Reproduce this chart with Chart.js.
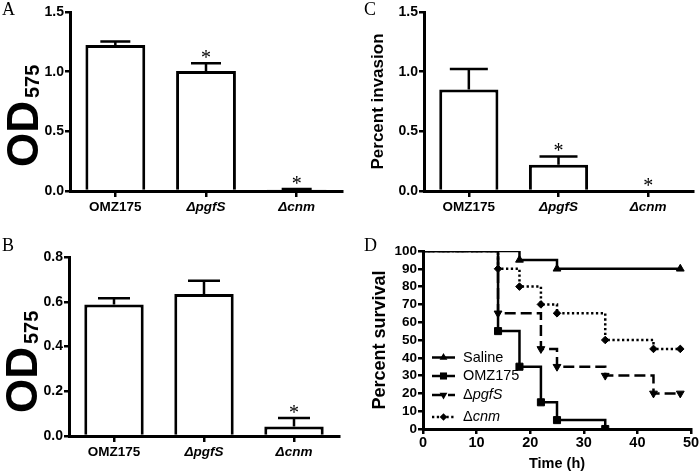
<!DOCTYPE html>
<html>
<head>
<meta charset="utf-8">
<script src="https://cdn.jsdelivr.net/npm/chart.js@4.4.0/dist/chart.umd.min.js"></script>
<style>
  body { margin: 0; background: #fff; }
  #wrap { position: relative; width: 700px; height: 473px; overflow: hidden; }
  canvas { position: absolute; }
  .tag { position: absolute; font-family: 'Liberation Serif', 'Times New Roman', serif; font-size: 18px; line-height: 18px; color: #000; }
</style>
</head>
<body>
<div id="wrap">
  <canvas id="cA" width="350" height="236" style="left:0;top:0"></canvas>
  <canvas id="cC" width="350" height="236" style="left:350px;top:0"></canvas>
  <canvas id="cB" width="350" height="237" style="left:0;top:236px"></canvas>
  <canvas id="cD" width="350" height="237" style="left:350px;top:236px"></canvas>
  <div class="tag" style="left:2px;top:0">A</div>
  <div class="tag" style="left:364px;top:0">C</div>
  <div class="tag" style="left:2px;top:236px">B</div>
  <div class="tag" style="left:364px;top:236px">D</div>
</div>
<script>
'use strict'
// strains shown in the bar panels
var strains = ['OMZ175', '\u0394pgfS', '\u0394cnm'];

// panel A - OD575
var odA = [1.223, 1.006, 0.012];
var odAErr = [0.03, 0.064, 0.004];
var starA = [false, true, true];

// panel B - OD575
var odB = [0.588, 0.635, 0.043];
var odBErr = [0.028, 0.059, 0.037];
var starB = [false, false, true];

// panel C - percent invasion
var invC = [0.85, 0.22, 0];
var invCErr = [0.173, 0.07, 0];
var starC = [false, true, true];

// panel D - survival (time in h, percent)
var survLabels = ['Saline', 'OMZ175', '\u0394pgfS', '\u0394cnm'];
var salineT = [0, 18, 25, 48];
var salineS = [100, 95, 90, 90];
var omzT = [0, 14, 18, 22, 25, 34];
var omzS = [100, 55, 35, 15, 5, 0];
var pgfT = [0, 14, 22, 25, 34, 43, 48];
var pgfS = [100, 65, 45, 35, 30, 20, 20];
var cnmT = [0, 14, 18, 22, 25, 34, 43, 48];
var cnmS = [100, 90, 80, 70, 65, 50, 45, 45];

var sans = "'Liberation Sans', Arial, sans-serif";
Chart.defaults.color = '#000';
Chart.defaults.font.family = sans;

function bold(size) {
    return { family: sans, size: size, weight: 'bold' };
}
function tickGrid(len) {
    return { drawOnChartArea: false, color: '#000', lineWidth: 2.5, tickLength: len };
}
var blackBorder = { color: '#000', width: 3 };

// error bars (upper only) + significance stars
var errPlugin = {
    id: 'errBars',
    afterDatasetsDraw: function (chart, args, o) {
        var ctx = chart.ctx;
        var y = chart.scales.y;
        var vals = chart.data.datasets[0].data;
        ctx.save();
        ctx.strokeStyle = '#000';
        ctx.fillStyle = '#000';
        ctx.lineWidth = 2.5;
        ctx.font = "20px 'Liberation Serif', serif";
        ctx.textAlign = 'center';
        ctx.textBaseline = 'alphabetic';
        chart.getDatasetMeta(0).data.forEach(function (bar, i) {
            var top = y.getPixelForValue(vals[i] + o.errs[i]);
            if (o.errs[i] > 0) {
                ctx.beginPath();
                ctx.moveTo(bar.x, y.getPixelForValue(vals[i]));
                ctx.lineTo(bar.x, top);
                ctx.moveTo(bar.x - o.cap, top);
                ctx.lineTo(bar.x + o.cap, top);
                ctx.stroke();
            }
            if (o.stars[i]) ctx.fillText('*', bar.x, top + 1);
        });
        ctx.restore();
    }
};

// rotated "OD575" axis title with subscript
var odPlugin = {
    id: 'odTitle',
    afterDraw: function (chart, args, o) {
        if (!o.show) return;
        var ctx = chart.ctx;
        ctx.save();
        ctx.translate(o.x, o.y);
        ctx.rotate(-Math.PI / 2);
        ctx.fillStyle = '#000';
        ctx.textAlign = 'left';
        ctx.textBaseline = 'alphabetic';
        ctx.font = 'bold 44px ' + sans;
        ctx.fillText('OD', 0, 0);
        var w = ctx.measureText('OD').width;
        ctx.font = 'bold 20px ' + sans;
        ctx.fillText('575', w + 3, 1);
        ctx.restore();
    }
};

function barPanel(id, vals, errs, stars, yMax, box, od, yTitle) {
    return new Chart(document.getElementById(id), {
        type: 'bar',
        data: {
            labels: strains,
            datasets: [{
                data: vals,
                backgroundColor: '#fff',
                borderColor: '#000',
                borderWidth: 3,
                borderSkipped: 'start',
                barPercentage: 0.66,
                categoryPercentage: 1
            }]
        },
        options: {
            responsive: false,
            animation: false,
            layout: { padding: { top: box.top, right: box.right, left: 0, bottom: 0 } },
            plugins: {
                legend: { display: false },
                tooltip: { enabled: false },
                errBars: { errs: errs, stars: stars, cap: box.cap },
                odTitle: od
            },
            scales: {
                x: {
                    grid: Object.assign(tickGrid(6), { offset: false }),
                    border: blackBorder,
                    ticks: {
                        color: '#000',
                        padding: 2,
                        font: function (c) {
                            return { family: sans, size: 13.5, weight: 'bold', style: c.index > 0 ? 'italic' : 'normal' };
                        }
                    },
                    afterFit: function (s) { s.height = box.xh; }
                },
                y: {
                    min: 0,
                    max: yMax,
                    grid: tickGrid(5),
                    border: blackBorder,
                    ticks: {
                        stepSize: box.step,
                        autoSkip: false,
                        padding: 1,
                        color: '#000',
                        font: bold(14),
                        callback: function (v) { return v.toFixed(1); }
                    },
                    title: yTitle || { display: false },
                    afterFit: function (s) { s.width = box.yw; }
                }
            }
        },
        plugins: [errPlugin, odPlugin]
    });
}

barPanel('cA', odA, odAErr, starA, 1.5,
    { top: 12, right: 8, yw: 70, xh: 45, step: 0.5, cap: 15 },
    { show: true, x: 38, y: 167 });
barPanel('cB', odB, odBErr, starB, 0.8,
    { top: 21, right: 11, yw: 69, xh: 37, step: 0.2, cap: 16 },
    { show: true, x: 37, y: 177 });
barPanel('cC', invC, invCErr, starC, 1.5,
    { top: 12, right: 7, yw: 74, xh: 45, step: 0.5, cap: 19 },
    { show: false },
    { display: true, text: 'Percent invasion', font: bold(17), padding: { top: 18, bottom: 0 }, color: '#000' });

// ---- panel D: Kaplan-Meier style step lines ----
function kmSet(label, t, s, style, rot, r, dash) {
    return {
        label: label,
        data: t.map(function (x, i) { return { x: x, y: s[i] }; }),
        stepped: true,
        borderColor: '#000',
        borderWidth: 2.5,
        borderDash: dash,
        pointStyle: style,
        pointRotation: rot,
        pointRadius: t.map(function (x, i) { return i === 0 ? 0 : r; }),
        pointBackgroundColor: '#000',
        pointBorderColor: '#000',
        pointBorderWidth: 1,
        fill: false
    };
}

function drawMark(ctx, style, rot, x, y, r) {
    ctx.save();
    ctx.translate(x, y);
    ctx.rotate(rot * Math.PI / 180);
    ctx.beginPath();
    if (style === 'triangle') {
        ctx.moveTo(0, -r);
        ctx.lineTo(r * 0.866, r * 0.5);
        ctx.lineTo(-r * 0.866, r * 0.5);
    } else if (style === 'rect') {
        var h = r * 0.707;
        ctx.rect(-h, -h, 2 * h, 2 * h);
    } else {
        ctx.moveTo(0, -r);
        ctx.lineTo(r, 0);
        ctx.lineTo(0, r);
        ctx.lineTo(-r, 0);
    }
    ctx.closePath();
    ctx.fill();
    ctx.restore();
}

var kmLegend = {
    id: 'kmLegend',
    afterDraw: function (chart) {
        var ctx = chart.ctx;
        var rows = [121.5, 140, 159, 181];
        ctx.save();
        chart.data.datasets.forEach(function (ds, i) {
            var y = rows[i];
            ctx.strokeStyle = '#000';
            ctx.fillStyle = '#000';
            ctx.lineWidth = 2.5;
            ctx.setLineDash(ds.borderDash || []);
            ctx.beginPath();
            ctx.moveTo(82, y);
            ctx.lineTo(105, y);
            ctx.stroke();
            ctx.setLineDash([]);
            drawMark(ctx, ds.pointStyle, ds.pointRotation, 93.5, y, ds.pointRadius[1]);
            ctx.textBaseline = 'middle';
            ctx.textAlign = 'left';
            var tx = 113;
            var lab = ds.label;
            if (lab.charAt(0) === '\u0394') {
                ctx.font = '14.5px ' + sans;
                ctx.fillText('\u0394', tx, y);
                tx += ctx.measureText('\u0394').width;
                lab = lab.slice(1);
                ctx.font = 'italic 14.5px ' + sans;
            } else {
                ctx.font = '14.5px ' + sans;
            }
            ctx.fillText(lab, tx, y);
        });
        ctx.restore();
    }
};

new Chart(document.getElementById('cD'), {
    type: 'line',
    data: {
        datasets: [
            kmSet(survLabels[0], salineT, salineS, 'triangle', 0, 4.5, []),
            kmSet(survLabels[1], omzT, omzS, 'rect', 0, 5, []),
            kmSet(survLabels[2], pgfT, pgfS, 'triangle', 180, 4.5, [11, 5]),
            kmSet(survLabels[3], cnmT, cnmS, 'rectRot', 0, 3.8, [2.3, 2.5])
        ]
    },
    options: {
        responsive: false,
        animation: false,
        layout: { padding: { top: 15, right: 9, left: 0, bottom: 0 } },
        plugins: { legend: { display: false }, tooltip: { enabled: false } },
        scales: {
            x: {
                type: 'linear',
                min: 0,
                max: 50,
                grid: tickGrid(5),
                border: blackBorder,
                ticks: { stepSize: 10, autoSkip: false, padding: 0, color: '#000', font: bold(14.5) },
                title: { display: true, text: 'Time (h)', font: bold(14.5), padding: { top: 0, bottom: 0 }, color: '#000' },
                afterFit: function (s) { s.height = 44; }
            },
            y: {
                min: 0,
                max: 100,
                grid: tickGrid(5),
                border: blackBorder,
                ticks: { stepSize: 10, autoSkip: false, padding: 1, color: '#000', font: bold(13.5) },
                title: { display: true, text: 'Percent survival', font: bold(18), padding: { top: 19, bottom: 0 }, color: '#000' },
                afterFit: function (s) { s.width = 73; }
            }
        }
    },
    plugins: [kmLegend]
});
</script>
</body>
</html>
